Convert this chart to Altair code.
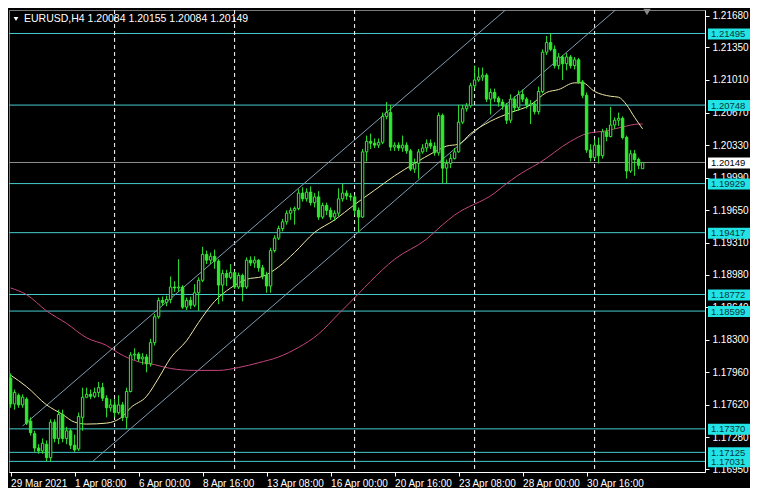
import altair as alt
import pandas as pd

# ---------------- data ----------------
symbol = "EURUSD"
timeframe = "H4"

open_ = [1.1790, 1.1763, 1.1772, 1.1762, 1.1768, 1.1745, 1.1732, 1.1717, 1.1714, 1.1721,
         1.1707, 1.1744, 1.1727, 1.1752, 1.1727, 1.1735, 1.1720, 1.1716, 1.1749, 1.1770,
         1.1773, 1.1771, 1.1775, 1.1780, 1.1769, 1.1759, 1.1762, 1.1754, 1.1762, 1.1749,
         1.1776, 1.1814, 1.1815, 1.1810, 1.1812, 1.1805, 1.1827, 1.1854, 1.1871, 1.1869,
         1.1872, 1.1885, 1.1884, 1.1885, 1.1864, 1.1871, 1.1866, 1.1879, 1.1892, 1.1919,
         1.1913, 1.1917, 1.1912, 1.1887, 1.1899, 1.1895, 1.1900, 1.1885, 1.1897, 1.1885,
         1.1913, 1.1910, 1.1913, 1.1905, 1.1897, 1.1886, 1.1923, 1.1936, 1.1946, 1.1953,
         1.1962, 1.1965, 1.1967, 1.1983, 1.1977, 1.1984, 1.1973, 1.1979, 1.1958, 1.1970,
         1.1965, 1.1958, 1.1962, 1.1977, 1.1983, 1.1980, 1.1979, 1.1965, 1.1958, 1.2026,
         1.2037, 1.2035, 1.2033, 1.2036, 1.2063, 1.2067, 1.2031, 1.2033, 1.2030, 1.2033,
         1.2027, 1.2008, 1.2014, 1.2026, 1.2030, 1.2035, 1.2032, 1.2025, 1.2064, 1.2009,
         1.2014, 1.2019, 1.2026, 1.2057, 1.2071, 1.2074, 1.2095, 1.2101, 1.2104, 1.2106,
         1.2081, 1.2088, 1.2082, 1.2078, 1.2074, 1.2059, 1.2081, 1.2072, 1.2086, 1.2081,
         1.2075, 1.2076, 1.2068, 1.2089, 1.2130, 1.2140, 1.2133, 1.2116, 1.2125, 1.2118,
         1.2125, 1.2116, 1.2122, 1.2099, 1.2085, 1.2028, 1.2020, 1.2033, 1.2022, 1.2047,
         1.2042, 1.2054, 1.2059, 1.2061, 1.2041, 1.2006, 1.2024, 1.2018, 1.20084]
high = [1.1795, 1.1778, 1.1774, 1.1773, 1.1770, 1.1749, 1.1735, 1.1721, 1.1727, 1.1725,
        1.1747, 1.1747, 1.1757, 1.1757, 1.1739, 1.1737, 1.1731, 1.1754, 1.1780, 1.1780,
        1.1778, 1.1780, 1.1786, 1.1785, 1.1772, 1.1768, 1.1768, 1.1772, 1.1765, 1.1780,
        1.1817, 1.1821, 1.1817, 1.1816, 1.1815, 1.1831, 1.1857, 1.1874, 1.1875, 1.1876,
        1.1896, 1.1891, 1.1914, 1.1887, 1.1874, 1.1875, 1.1888, 1.1895, 1.1927, 1.1923,
        1.1921, 1.1924, 1.1914, 1.1903, 1.1903, 1.1909, 1.1901, 1.1900, 1.1899, 1.1916,
        1.1917, 1.1917, 1.1914, 1.1908, 1.1901, 1.1926, 1.1939, 1.1949, 1.1956, 1.1965,
        1.1968, 1.1969, 1.1987, 1.1989, 1.1988, 1.1990, 1.1983, 1.1985, 1.1973, 1.1973,
        1.1968, 1.1965, 1.1988, 1.1993, 1.1986, 1.1983, 1.1981, 1.1968, 1.2029, 1.2043,
        1.2045, 1.2040, 1.2040, 1.2067, 1.2078, 1.2075, 1.2036, 1.2036, 1.2043, 1.2036,
        1.2029, 1.2019, 1.2029, 1.2034, 1.2039, 1.2039, 1.2036, 1.2067, 1.2066, 1.2018,
        1.2024, 1.2030, 1.2075, 1.2075, 1.2077, 1.2098, 1.2116, 1.2114, 1.2114, 1.2108,
        1.2092, 1.2092, 1.2084, 1.2081, 1.2077, 1.2086, 1.2084, 1.2090, 1.2091, 1.2083,
        1.2080, 1.2079, 1.2094, 1.2133, 1.2147, 1.2150, 1.2137, 1.2129, 1.2127, 1.2129,
        1.2127, 1.2125, 1.2124, 1.2101, 1.2088, 1.2034, 1.2039, 1.2041, 1.2050, 1.2051,
        1.2073, 1.2062, 1.2067, 1.2063, 1.2043, 1.2028, 1.2028, 1.2020, 1.20155]
low = [1.1759, 1.1757, 1.1759, 1.1759, 1.1741, 1.1730, 1.1713, 1.1711, 1.1711, 1.1703,
       1.1703, 1.1723, 1.1721, 1.1723, 1.1721, 1.1716, 1.1713, 1.1714, 1.1735, 1.1769,
       1.1768, 1.1769, 1.1770, 1.1766, 1.1749, 1.1755, 1.1749, 1.1752, 1.1745, 1.1737,
       1.1775, 1.1809, 1.1807, 1.1804, 1.1796, 1.1802, 1.1824, 1.1852, 1.1866, 1.1865,
       1.1868, 1.1880, 1.1880, 1.1862, 1.1861, 1.1862, 1.1864, 1.1860, 1.1890, 1.1909,
       1.1909, 1.1904, 1.1867, 1.1870, 1.1886, 1.1893, 1.1883, 1.1883, 1.1870, 1.1883,
       1.1907, 1.1905, 1.1901, 1.1893, 1.1879, 1.1879, 1.1921, 1.1934, 1.1943, 1.1950,
       1.1955, 1.1950, 1.1965, 1.1974, 1.1974, 1.1970, 1.1968, 1.1955, 1.1956, 1.1960,
       1.1955, 1.1954, 1.1959, 1.1974, 1.1976, 1.1975, 1.1960, 1.1942, 1.1957, 1.2016,
       1.2029, 1.2030, 1.2030, 1.2034, 1.2060, 1.2027, 1.2027, 1.2027, 1.2026, 1.2024,
       1.2006, 1.2004, 1.1998, 1.2024, 1.2026, 1.2029, 1.2022, 1.2022, 1.1993, 1.1993,
       1.2009, 1.2018, 1.2025, 1.2055, 1.2068, 1.2072, 1.2092, 1.2099, 1.2100, 1.2078,
       1.2065, 1.2078, 1.2073, 1.2070, 1.2055, 1.2056, 1.2068, 1.2069, 1.2078, 1.2071,
       1.2055, 1.2065, 1.2065, 1.2087, 1.2127, 1.2131, 1.2113, 1.2112, 1.2101, 1.2111,
       1.2113, 1.2112, 1.2097, 1.2082, 1.2025, 1.2016, 1.2018, 1.2014, 1.2019, 1.2037,
       1.2041, 1.2050, 1.2053, 1.2039, 1.1998, 1.2004, 1.2001, 1.2008, 1.20084]
close = [1.1763, 1.1775, 1.1762, 1.1770, 1.1743, 1.1733, 1.1717, 1.1714, 1.1722, 1.1707,
         1.1744, 1.1727, 1.1752, 1.1727, 1.1735, 1.1720, 1.1715, 1.1750, 1.1770, 1.1773,
         1.1771, 1.1775, 1.1780, 1.1769, 1.1759, 1.1762, 1.1754, 1.1762, 1.1749, 1.1776,
         1.1814, 1.1815, 1.1810, 1.1812, 1.1805, 1.1827, 1.1854, 1.1871, 1.1869, 1.1872,
         1.1885, 1.1884, 1.1885, 1.1864, 1.1871, 1.1866, 1.1879, 1.1892, 1.1919, 1.1913,
         1.1917, 1.1912, 1.1887, 1.1899, 1.1895, 1.1900, 1.1885, 1.1897, 1.1885, 1.1913,
         1.1910, 1.1913, 1.1905, 1.1897, 1.1886, 1.1923, 1.1936, 1.1946, 1.1953, 1.1962,
         1.1965, 1.1967, 1.1983, 1.1977, 1.1984, 1.1973, 1.1979, 1.1958, 1.1970, 1.1965,
         1.1958, 1.1962, 1.1977, 1.1983, 1.1980, 1.1979, 1.1965, 1.1958, 1.2026, 1.2037,
         1.2035, 1.2033, 1.2036, 1.2063, 1.2067, 1.2031, 1.2033, 1.2030, 1.2033, 1.2027,
         1.2008, 1.2014, 1.2026, 1.2030, 1.2035, 1.2032, 1.2025, 1.2064, 1.2009, 1.2014,
         1.2019, 1.2026, 1.2057, 1.2071, 1.2074, 1.2095, 1.2101, 1.2104, 1.2106, 1.2081,
         1.2088, 1.2082, 1.2078, 1.2074, 1.2059, 1.2081, 1.2072, 1.2086, 1.2081, 1.2075,
         1.2076, 1.2068, 1.2089, 1.2130, 1.2140, 1.2133, 1.2116, 1.2125, 1.2118, 1.2125,
         1.2116, 1.2122, 1.2099, 1.2085, 1.2028, 1.2020, 1.2033, 1.2022, 1.2047, 1.2042,
         1.2054, 1.2059, 1.2061, 1.2041, 1.2006, 1.2024, 1.2018, 1.2012, 1.20149]

# moving averages sampled along the picture (bar index, price)
ma_fast_i = [0, 4, 9, 13, 16, 19, 24, 26, 28, 30, 34, 37, 40, 44, 47, 51, 55, 59, 63, 67,
             71, 76, 81, 86, 91, 96, 101, 106, 109, 112, 115, 120, 125, 130, 134, 137, 141,
             143, 146, 150, 152, 154, 156, 158]
ma_fast_v = [1.1793, 1.1781, 1.1762, 1.1752, 1.1744, 1.1742, 1.1743, 1.1745, 1.1750, 1.1759,
             1.1771, 1.1790, 1.1811, 1.1829, 1.1848, 1.1870, 1.1884, 1.1893, 1.1896, 1.1906,
             1.1921, 1.1942, 1.1955, 1.1971, 1.1986, 1.2001, 1.2014, 1.2026, 1.2032, 1.2034,
             1.2045, 1.2058, 1.2067, 1.2075, 1.2088, 1.2091, 1.2098, 1.2098, 1.2089, 1.2084,
             1.2083, 1.2075, 1.2062, 1.2050]
ma_slow_i = [0, 4, 9, 14, 19, 24, 27, 32, 36, 40, 46, 52, 57, 62, 67, 72, 77, 82, 87, 90,
             96, 104, 108, 111, 121, 124, 129, 132, 140, 144, 149, 153, 157, 158]
ma_slow_v = [1.1884, 1.1877, 1.1860, 1.1847, 1.1832, 1.1824, 1.1816, 1.1807, 1.1804, 1.1800,
             1.1798, 1.1798, 1.1801, 1.1806, 1.1812, 1.1822, 1.1836, 1.1857, 1.1878, 1.1891,
             1.1914, 1.1935, 1.1950, 1.1960, 1.1983, 1.1993, 1.2007, 1.2014, 1.2037, 1.2045,
             1.2048, 1.2052, 1.2055, 1.2055]

# equidistant channel anchors (bar index, price)
chan_upper_i = [3, 124]
chan_upper_p = [1.1740, 1.2175]
chan_lower_i = [20.5, 151.5]
chan_lower_p = [1.1703, 1.2175]

# horizontal levels
levels = [1.21495, 1.20748, 1.19929, 1.19417, 1.18772, 1.18599, 1.17370, 1.17125, 1.17031]
bid = 1.20149

# axes
price_ticks = [1.21680, 1.21350, 1.21010, 1.20670, 1.20330, 1.19990, 1.19650, 1.19310,
               1.18980, 1.18640, 1.18300, 1.17960, 1.17620, 1.17280, 1.16950]
time_tick_i = [0, 16, 32, 48, 64, 80, 96, 112, 128, 144]
time_labels = ["29 Mar 2021", "1 Apr 08:00", "6 Apr 00:00", "8 Apr 16:00", "13 Apr 08:00",
               "16 Apr 00:00", "20 Apr 16:00", "23 Apr 08:00", "28 Apr 00:00", "30 Apr 16:00"]
week_start_i = [26, 56, 86, 116, 146]

# ---------------- styling ----------------
W, H = 696, 462
GREEN = "#33e833"
CYAN_LINE = "#46cccc"
CYAN_BOX = "#22e4e4"
YELLOW = "#eee6a4"
RED = "#c4467c"
CHANNEL = "#7f9cb2"
FONT = "Liberation Sans"

xs = alt.Scale(domain=[-0.4, 173.6], nice=False, zero=False)
ys = alt.Scale(domain=[1.1692, 1.2174], nice=False, zero=False)

label_expr = "[" + ",".join("'%s'" % t for t in time_labels) + "][round(datum.value / 16)]"

AX_X = alt.Axis(values=time_tick_i, labelExpr=label_expr, title=None, orient="bottom",
                labelAlign="left", labelBaseline="top", labelPadding=2, tickSize=4,
                labelOverlap=False, labelFlush=False, grid=False, domain=True, ticks=True,
                labels=True)
AX_Y = alt.Axis(values=price_ticks, format=".5f", title=None, orient="right", tickSize=4,
                labelPadding=3, labelOverlap=False, grid=False, domain=True, ticks=True,
                labels=True)

candles = pd.DataFrame({"i": list(range(len(close))), "o": open_, "h": high, "l": low, "c": close})

wicks = alt.Chart(candles).mark_rule(color=GREEN, strokeWidth=1, clip=True).encode(
    x=alt.X("i:Q", scale=xs, axis=AX_X),
    y=alt.Y("l:Q", scale=ys, axis=AX_Y),
    y2="h:Q",
)

bodies = alt.Chart(candles).transform_calculate(
    x0="datum.i - 0.3", x1="datum.i + 0.3"
).mark_rect(stroke=GREEN, strokeWidth=1, clip=True).encode(
    x=alt.X("x0:Q", scale=xs, axis=AX_X), x2="x1:Q",
    y=alt.Y("o:Q", scale=ys, axis=AX_Y), y2="c:Q",
    fill=alt.condition("datum.c >= datum.o", alt.value("#000000"), alt.value(GREEN)),
)

lv = pd.DataFrame({"p": levels, "t": ["%.5f" % v for v in levels]})
bid_df = pd.DataFrame({"p": [bid], "t": ["%.5f" % bid]})

hlines = alt.Chart(lv).mark_rule(color=CYAN_LINE, strokeWidth=1).encode(
    y=alt.Y("p:Q", scale=ys, axis=AX_Y), x=alt.value(0), x2=alt.value(W))
bid_line = alt.Chart(bid_df).mark_rule(color="#8e8e8e", strokeWidth=1).encode(
    y=alt.Y("p:Q", scale=ys, axis=AX_Y), x=alt.value(0), x2=alt.value(W))

vgrid = alt.Chart(pd.DataFrame({"i": week_start_i})).mark_rule(
    color="#ffffff", strokeWidth=1, strokeDash=[4, 3]).encode(
    x=alt.X("i:Q", scale=xs, axis=AX_X), y=alt.value(0), y2=alt.value(H))

chan = pd.concat([
    pd.DataFrame({"i": chan_upper_i, "p": chan_upper_p, "k": "upper"}),
    pd.DataFrame({"i": chan_lower_i, "p": chan_lower_p, "k": "lower"}),
])
channel = alt.Chart(chan).mark_line(color=CHANNEL, strokeWidth=1, clip=True).encode(
    x=alt.X("i:Q", scale=xs, axis=AX_X), y=alt.Y("p:Q", scale=ys, axis=AX_Y), detail="k:N")

ma_slow = alt.Chart(pd.DataFrame({"i": ma_slow_i, "v": ma_slow_v})).mark_line(
    color=RED, strokeWidth=1, interpolate="monotone", clip=True).encode(
    x=alt.X("i:Q", scale=xs, axis=AX_X), y=alt.Y("v:Q", scale=ys, axis=AX_Y))
ma_fast = alt.Chart(pd.DataFrame({"i": ma_fast_i, "v": ma_fast_v})).mark_line(
    color=YELLOW, strokeWidth=1, interpolate="monotone", clip=True).encode(
    x=alt.X("i:Q", scale=xs, axis=AX_X), y=alt.Y("v:Q", scale=ys, axis=AX_Y))

box_lv = alt.Chart(lv).mark_rect(color=CYAN_BOX, yOffset=-5, y2Offset=6).encode(
    y=alt.Y("p:Q", scale=ys, axis=AX_Y), y2="p:Q", x=alt.value(W + 3), x2=alt.value(W + 45))
txt_lv = alt.Chart(lv).mark_text(align="left", baseline="middle", font=FONT, fontSize=9.5,
                                 color="#0b3640", dy=0.5).encode(
    y=alt.Y("p:Q", scale=ys, axis=AX_Y), x=alt.value(W + 6), text="t:N")
box_bid = alt.Chart(bid_df).mark_rect(color="#ffffff", yOffset=-5, y2Offset=6).encode(
    y=alt.Y("p:Q", scale=ys, axis=AX_Y), y2="p:Q", x=alt.value(W + 3), x2=alt.value(W + 45))
txt_bid = alt.Chart(bid_df).mark_text(align="left", baseline="middle", font=FONT, fontSize=9.5,
                                      color="#000000", dy=0.5).encode(
    y=alt.Y("p:Q", scale=ys, axis=AX_Y), x=alt.value(W + 6), text="t:N")

header_text = "%s,%s  %.5f %.5f %.5f %.5f" % (symbol, timeframe, open_[-1], high[-1], low[-1], close[-1])
header = alt.Chart(pd.DataFrame({"t": [header_text]})).mark_text(
    align="left", baseline="middle", font=FONT, fontSize=10.5, color="#ffffff").encode(
    x=alt.value(15), y=alt.value(9), text="t:N")
menu_tri = alt.Chart(pd.DataFrame({"a": [0]})).mark_point(
    shape="triangle-down", filled=True, size=22, color="#ffffff", opacity=1).encode(
    x=alt.value(7), y=alt.value(9))
shift_tri = alt.Chart(pd.DataFrame({"a": [0]})).mark_point(
    shape="triangle-down", filled=True, size=55, color="#8a8a8a", opacity=1).encode(
    x=alt.value(638), y=alt.value(2))

chart = alt.layer(
    hlines, bid_line, vgrid, channel, ma_slow, ma_fast, wicks, bodies,
    box_lv, txt_lv, box_bid, txt_bid, header, menu_tri, shift_tri,
).properties(
    width=W, height=H, padding=0, background="#000000"
).configure_view(
    fill="#000000", stroke="#7a7a7a", strokeWidth=1
).configure_axis(
    labelColor="#ffffff", tickColor="#ffffff", domainColor="#ffffff",
    labelFont=FONT, labelFontSize=10, domainWidth=1, tickWidth=1,
)

chart.save("out.html", embed_options={"renderer": "svg", "actions": False})
